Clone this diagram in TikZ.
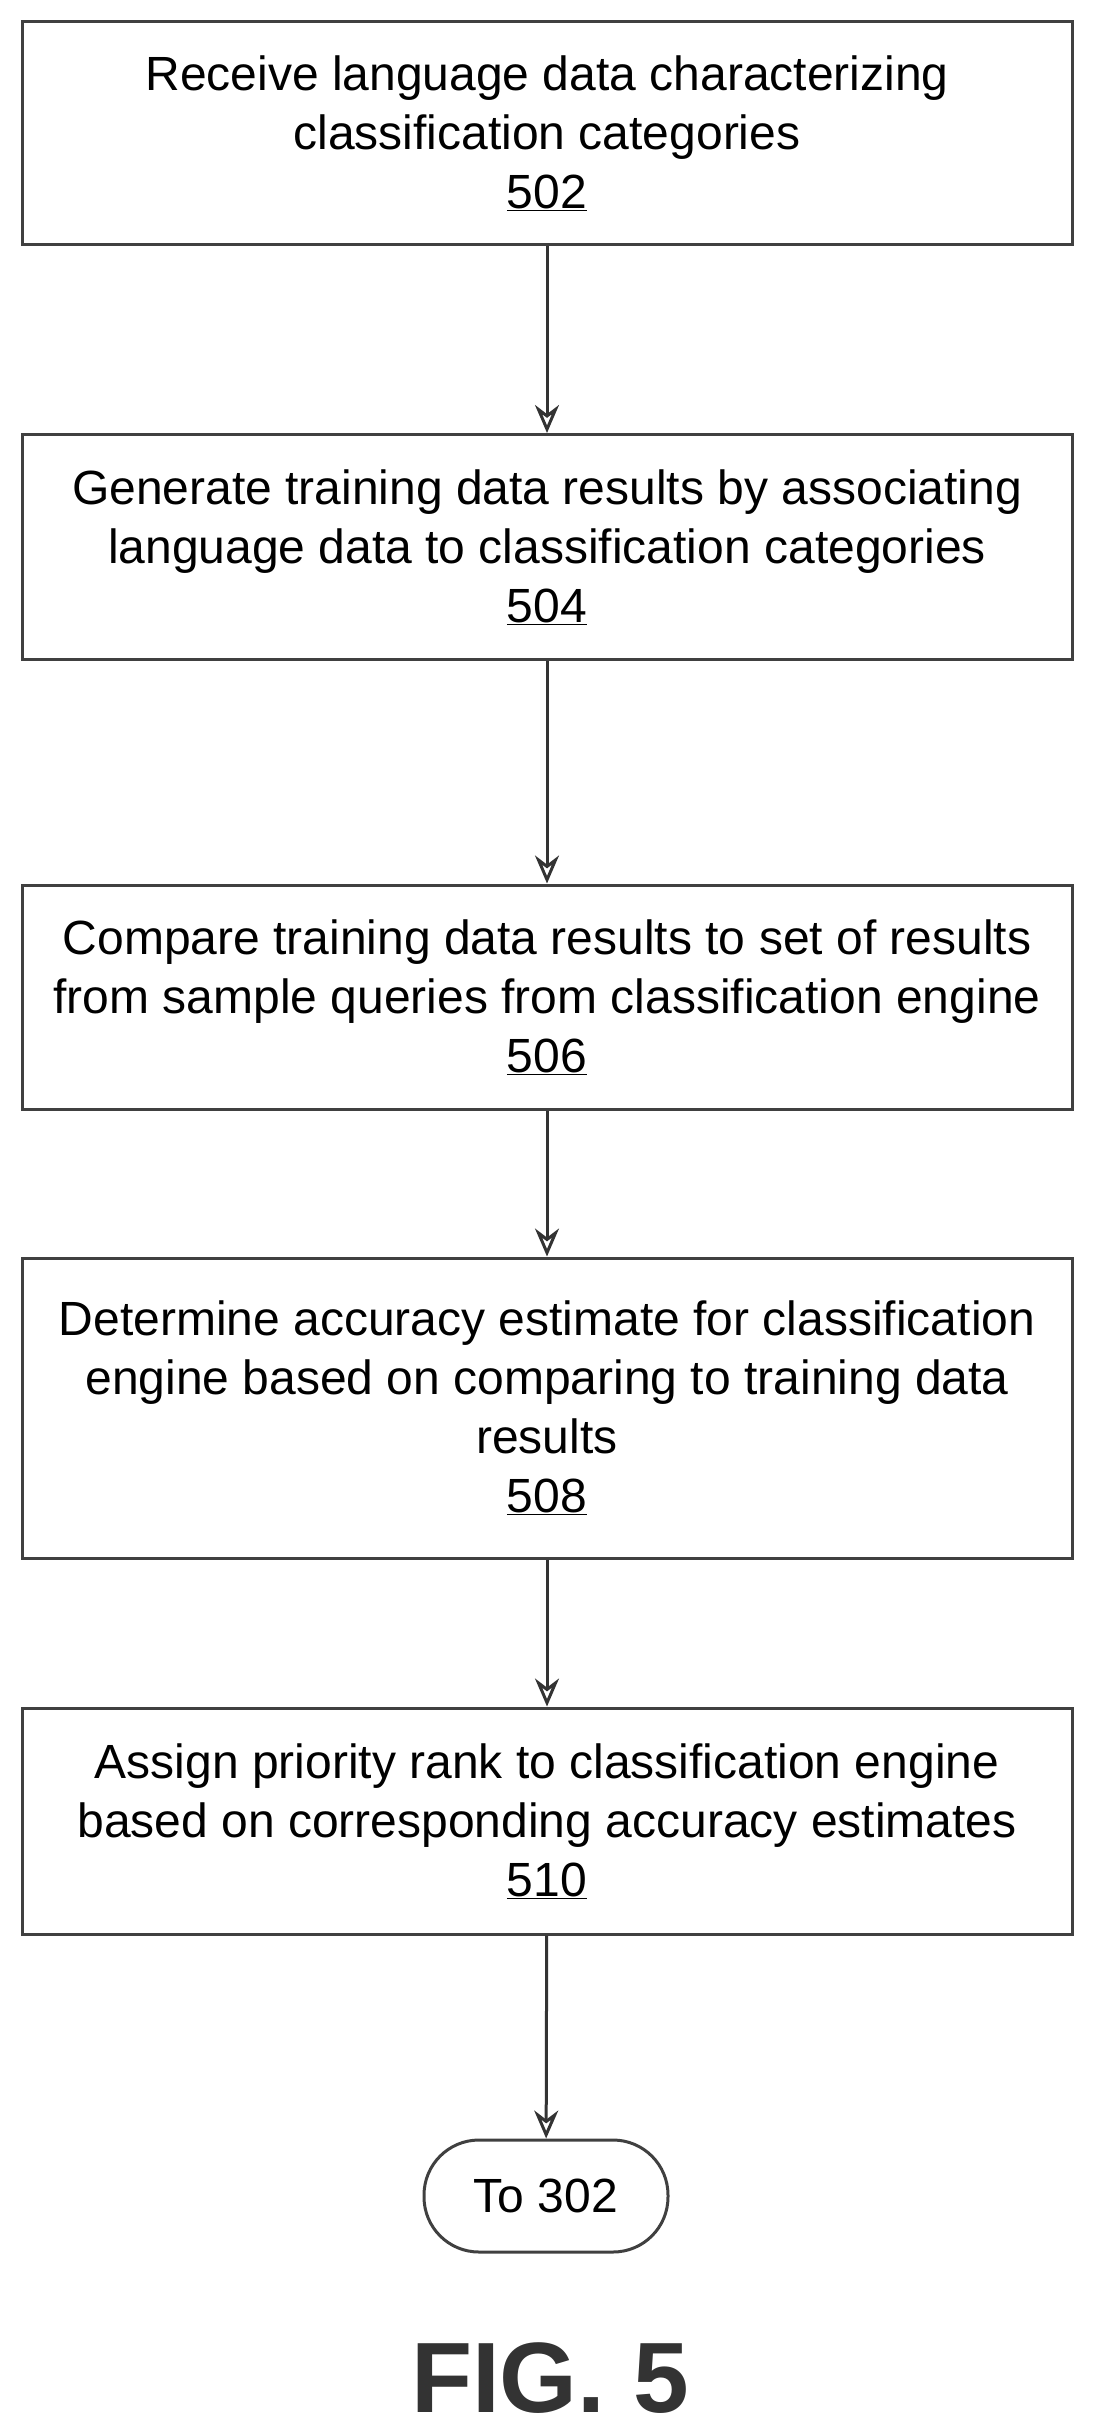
\documentclass[tikz,border=0pt]{standalone}
\usepackage{fontspec}
\setmainfont{Liberation Sans}
\usetikzlibrary{arrows.meta}
\begin{document}
\begin{tikzpicture}[x=1pt,y=-1pt,
  box/.style={draw=black!75,line width=3pt,minimum width=1050pt,align=center,inner sep=0pt,font=\fontsize{48}{59}\selectfont},
  term/.style={draw=black!75,line width=3pt,rounded corners=55pt,minimum width=244pt,minimum height=112pt,font=\fontsize{48}{59}\selectfont},
  arr/.style={draw=black!80,line width=3pt,-{Stealth[length=28pt,width=24pt,open]}}]
\useasboundingbox (0,0) rectangle (1095,2436);
\node[box,minimum height=223pt] (b1) at (547,133) {Receive language data characterizing\\classification categories\\\underline{502}};
\node[box,minimum height=225pt] (b2) at (547,547) {Generate training data results by associating\\language data to classification categories\\\underline{504}};
\node[box,minimum height=224pt] (b3) at (547,997) {Compare training data results to set of results\\from sample queries from classification engine\\\underline{506}};
\node[box,minimum height=300pt] (b4) at (547,1408) {Determine accuracy estimate for classification\\engine based on comparing to training data\\results\\\underline{508}};
\node[box,minimum height=226pt] (b5) at (547,1821) {Assign priority rank to classification engine\\based on corresponding accuracy estimates\\\underline{510}};
\node[term] (t) at (546,2196) {To 302};
\node[font=\bfseries\fontsize{100}{100}\selectfont,text=black!80] (fig) at (550,2378) {FIG. 5};
\draw[arr] (b1) -- (b2);
\draw[arr] (b2) -- (b3);
\draw[arr] (b3) -- (b4);
\draw[arr] (b4) -- (b5);
\draw[arr] (b5) -- (t);
\end{tikzpicture}
\end{document}
